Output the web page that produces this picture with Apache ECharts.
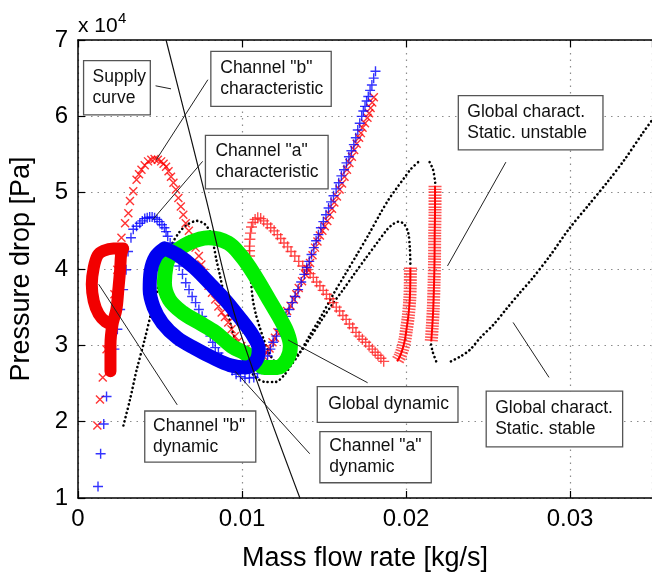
<!DOCTYPE html>
<html><head><meta charset="utf-8">
<script src="https://cdn.jsdelivr.net/npm/echarts@6/dist/echarts.min.js"></script>
<style>html,body{margin:0;padding:0;background:#fff}#c{width:652px;height:577px}</style>
</head><body><div id="c"></div>
<script>
// ---------- data (x: kg/s, y: pressure drop in 10^4 Pa) ----------
const xTickLabels = ['0', '0.01', '0.02', '0.03'];
const yTickLabels = ['1', '2', '3', '4', '5', '6', '7'];

const supplyCurve = [[0.00537,7.0],[0.00689,5.71],[0.00781,4.92],[0.00964,3.34],[0.01353,1.0]];

const chBChar = [[0.00118,1.95],[0.00134,2.29],[0.00151,2.58],[0.00174,2.95],[0.00198,3.34],[0.00222,3.67],[0.00240,3.99],[0.00251,4.23],
[0.00265,4.41],[0.00287,4.60],[0.00307,4.73],[0.00317,4.89],[0.00337,5.02],[0.00357,5.17],[0.00372,5.24],[0.00387,5.30],[0.00407,5.36],[0.00427,5.41],[0.00447,5.43],[0.00467,5.44],[0.00487,5.43],[0.00507,5.41],[0.00522,5.38],[0.00537,5.34],[0.00552,5.28],[0.00567,5.21],[0.00582,5.13],[0.00597,5.04],[0.00612,4.93],[0.00627,4.82],[0.00642,4.71],[0.00657,4.60],[0.00676,4.50],[0.00696,4.39],[0.00717,4.28],[0.00737,4.17],[0.00752,4.06],[0.00766,3.95],[0.00781,3.86],[0.00796,3.78],[0.00817,3.69],[0.00837,3.60],[0.00856,3.51],[0.00876,3.43],[0.00896,3.37],[0.00916,3.30],[0.00936,3.21],[0.00956,3.12],[0.00976,3.05],[0.00996,2.99],[0.01022,2.95],[0.01048,2.91],[0.01078,2.88],[0.01108,2.86],[0.01130,2.86],[0.01150,2.90],[0.01168,2.96],[0.01186,3.04],[0.01201,3.10],[0.01216,3.17],[0.01231,3.23],[0.01246,3.30],[0.01261,3.37],[0.01275,3.45],[0.01296,3.52],[0.01316,3.60],[0.01331,3.67],[0.01346,3.75],[0.01366,3.84],[0.01385,3.93],[0.01400,4.00],[0.01415,4.08],[0.01430,4.18],[0.01445,4.28],[0.01460,4.36],[0.01475,4.44],[0.01490,4.50],[0.01505,4.56],[0.01520,4.63],[0.01535,4.71],[0.01549,4.79],[0.01563,4.87],[0.01579,4.95],[0.01595,5.04],[0.01610,5.12],[0.01625,5.21],[0.01640,5.30],[0.01655,5.39],[0.01670,5.47],[0.01684,5.56],[0.01699,5.64],[0.01714,5.72],[0.01725,5.78],[0.01735,5.85],[0.01750,5.91],[0.01765,5.98],[0.01775,6.04],[0.01784,6.11],[0.01794,6.18],[0.01804,6.25]];

const chAChar = [[0.00122,1.15],[0.00138,1.58],[0.00157,1.97],[0.00174,2.33],[0.00198,2.66],[0.00222,2.95],[0.00240,3.21],[0.00257,3.47],[0.00275,3.73],[0.00293,3.99],[0.00305,4.23],[0.00323,4.41],[0.00337,4.52],[0.00357,4.56],[0.00377,4.60],[0.00392,4.63],[0.00407,4.66],[0.00422,4.67],[0.00437,4.68],[0.00452,4.68],[0.00467,4.67],[0.00482,4.65],[0.00497,4.62],[0.00512,4.58],[0.00527,4.54],[0.00537,4.49],[0.00547,4.43],[0.00562,4.34],[0.00577,4.25],[0.00597,4.15],[0.00617,4.04],[0.00637,3.93],[0.00657,3.82],[0.00677,3.73],[0.00696,3.64],[0.00717,3.56],[0.00737,3.47],[0.00757,3.38],[0.00777,3.30],[0.00792,3.21],[0.00807,3.12],[0.00822,3.04],[0.00837,2.97],[0.00856,2.90],[0.00874,2.84],[0.00895,2.78],[0.00916,2.73],[0.00940,2.67],[0.00964,2.62],[0.00991,2.59],[0.01018,2.57],[0.01045,2.57],[0.01072,2.58],[0.01094,2.63],[0.01114,2.69],[0.01135,2.77],[0.01156,2.86],[0.01173,2.95],[0.01190,3.04],[0.01210,3.12],[0.01230,3.21],[0.01249,3.30],[0.01268,3.38],[0.01287,3.47],[0.01306,3.56],[0.01324,3.64],[0.01342,3.73],[0.01361,3.83],[0.01380,3.93],[0.01395,4.02],[0.01410,4.10],[0.01424,4.19],[0.01438,4.28],[0.01452,4.37],[0.01466,4.45],[0.01481,4.54],[0.01496,4.62],[0.01512,4.71],[0.01528,4.80],[0.01543,4.88],[0.01558,4.96],[0.01574,5.05],[0.01590,5.13],[0.01606,5.22],[0.01622,5.30],[0.01637,5.39],[0.01652,5.47],[0.01667,5.55],[0.01682,5.63],[0.01694,5.72],[0.01706,5.82],[0.01718,5.91],[0.01730,6.00],[0.01740,6.07],[0.01750,6.13],[0.01760,6.20],[0.01770,6.26],[0.01781,6.34],[0.01792,6.41],[0.01803,6.50],[0.01814,6.59]];

// global characteristic, statically stable branches (black dots)
const gStable1 = [[0.00277,1.95],[0.00317,2.29],[0.00359,2.69],[0.00407,3.08],[0.00447,3.43],[0.00485,3.73],[0.00527,4.06],[0.00569,4.31],[0.00617,4.48],[0.00665,4.58],[0.00725,4.63],[0.00772,4.59],[0.00807,4.48],[0.00826,4.32],[0.00844,4.12],[0.00866,3.91],[0.00896,3.60],[0.00934,3.25],[0.00964,3.04],[0.01000,2.84],[0.01042,2.69],[0.01090,2.57],[0.01144,2.52],[0.01204,2.52],[0.01257,2.61],[0.01299,2.74],[0.01346,2.88],[0.01413,3.13],[0.01485,3.39],[0.01557,3.67],[0.01629,3.93],[0.01701,4.19],[0.01772,4.45],[0.01844,4.73],[0.01894,4.91],[0.01940,5.05],[0.01988,5.19],[0.02030,5.31],[0.02074,5.40]];
const gStable2 = [[0.01046,4.10],[0.01054,3.86],[0.01066,3.60],[0.01084,3.41],[0.01106,3.25],[0.01132,3.08],[0.01166,2.90],[0.01204,2.79],[0.01275,2.79],[0.01353,2.91],[0.01413,3.09],[0.01479,3.31],[0.01545,3.52],[0.01617,3.73],[0.01683,3.93],[0.01754,4.14],[0.01826,4.35],[0.01886,4.52],[0.01922,4.59],[0.01954,4.62],[0.01988,4.59],[0.02014,4.47],[0.02024,4.25],[0.02027,4.04]];
const gStable3 = [[0.02144,5.40],[0.02165,5.30],[0.02178,5.13]];
const gStable4 = [[0.02153,3.01],[0.02162,2.92],[0.02184,2.79]];
const gStable5 = [[0.02274,2.79],[0.02329,2.85],[0.02389,2.94],[0.02453,3.10],[0.02533,3.27],[0.02613,3.48],[0.02695,3.69],[0.02772,3.88],[0.02880,4.18],[0.02992,4.52],[0.03114,4.84],[0.03232,5.15],[0.03335,5.44],[0.03443,5.78],[0.03497,5.94]];

// global characteristic, statically unstable branches (red +)
const gUnstable1 = [[0.01046,4.17],[0.01046,4.24],[0.01046,4.30],[0.01048,4.39],[0.01052,4.47],[0.01058,4.55],[0.01066,4.61],[0.01080,4.65],[0.01096,4.67],[0.01114,4.66],[0.01132,4.63],[0.01154,4.59],[0.01175,4.54],[0.01196,4.50],[0.01216,4.45],[0.01236,4.40],[0.01256,4.34],[0.01278,4.29],[0.01299,4.23],[0.01322,4.17],[0.01346,4.10],[0.01370,4.04],[0.01395,3.99],[0.01415,3.94],[0.01435,3.89],[0.01455,3.83],[0.01475,3.78],[0.01495,3.72],[0.01515,3.67],[0.01535,3.61],[0.01555,3.56],[0.01575,3.50],[0.01595,3.45],[0.01615,3.39],[0.01635,3.34],[0.01655,3.28],[0.01675,3.23],[0.01695,3.17],[0.01714,3.12],[0.01734,3.08],[0.01754,3.04],[0.01775,2.99],[0.01795,2.95],[0.01812,2.91],[0.01829,2.87],[0.01847,2.83],[0.01864,2.79]];
const gUnstable2 = [[0.02027,4.02],[0.02026,3.80],[0.02023,3.60],[0.02014,3.38],[0.02003,3.21],[0.01994,3.08],[0.01979,2.95],[0.01964,2.86],[0.01946,2.79]];
const gUnstable3 = [[0.02177,5.09],[0.02177,4.78],[0.02175,4.45],[0.02174,4.12],[0.02171,3.80],[0.02166,3.47],[0.02160,3.24],[0.02154,3.05]];

// dynamic trajectories
const chBDynamic = [[0.00198,2.66],[0.00198,3.01],[0.00210,3.27],[0.00234,3.47],[0.00246,3.73],[0.00257,3.99],[0.00263,4.19],[0.00275,4.27],[0.00216,4.27],[0.00156,4.24],[0.00120,4.18],[0.00096,4.02],[0.00084,3.80],[0.00096,3.58],[0.00126,3.41],[0.00168,3.31],[0.00210,3.27]];
const chADynamic = [[0.00527,4.27],[0.00605,4.19],[0.00707,4.02],[0.00808,3.80],[0.00904,3.58],[0.00994,3.34],[0.01066,3.13],[0.01102,2.95],[0.01084,2.79],[0.01024,2.71],[0.00928,2.74],[0.00820,2.84],[0.00713,2.96],[0.00605,3.10],[0.00515,3.29],[0.00461,3.50],[0.00437,3.73],[0.00443,3.97],[0.00473,4.16],[0.00527,4.27]];
const globalDynamic = [[0.00557,4.17],[0.00677,4.34],[0.00796,4.41],[0.00916,4.34],[0.00996,4.17],[0.01056,3.99],[0.01116,3.78],[0.01175,3.56],[0.01235,3.34],[0.01275,3.17],[0.01295,2.99],[0.01275,2.82],[0.01216,2.71],[0.01136,2.71],[0.01076,2.82],[0.01016,2.90],[0.00936,2.99],[0.00837,3.17],[0.00737,3.30],[0.00637,3.43],[0.00557,3.60],[0.00527,3.82],[0.00537,4.04],[0.00557,4.17]];

// annotations: text, box corners [x0,y0,x1,y1] and pointer [[xa,ya],[xb,yb]] in data units
const noteTexts = ['Supply\ncurve', 'Channel "b"\ncharacteristic', 'Channel "a"\ncharacteristic', 'Global charact.\nStatic. unstable', 'Global charact.\nStatic. stable', 'Global dynamic', 'Channel "b"\ndynamic', 'Channel "a"\ndynamic'];
const noteBoxes = [[0.00034,6.73,0.00441,6.02],[0.00810,6.85,0.01544,6.13],[0.00777,5.75,0.01525,5.05],[0.02319,6.27,0.03201,5.56],[0.02489,2.40,0.03321,1.67],[0.01459,2.46,0.02317,1.99],[0.00407,2.14,0.01084,1.47],[0.01475,1.87,0.02154,1.20]];
const notePointers = [[[0.00473,6.40],[0.00567,6.36]],[[0.00792,6.48],[0.00477,5.43]],[[0.00760,5.41],[0.00457,4.65]],[[0.02609,5.40],[0.02253,4.04]],[[0.02653,3.30],[0.02872,2.58]],[[0.01281,3.07],[0.01766,2.51]],[[0.00126,3.80],[0.00605,2.22]],[[0.00958,2.66],[0.01413,1.58]]];

// ---------- chart ----------
const FONT = '"Liberation Sans", Arial, Helvetica, sans-serif';
const PLUS = 'path://M0,5L10,5M5,0L5,10';
const CROSS = 'path://M0,0L10,10M10,0L0,10';
const chart = echarts.init(document.getElementById('c'), null, {renderer: 'canvas', width: 652, height: 577});

function dots(data) {
  return {type: 'line', data, symbol: 'none', smooth: 0.3, z: 2, silent: true,
    lineStyle: {color: '#000', width: 2.6, type: [0.1, 4.2], cap: 'round'}};
}
function markers(data, sym, size, color, w) {
  return {type: 'scatter', data, symbol: sym, symbolSize: size, z: 2, silent: true,
    itemStyle: {color: 'rgba(0,0,0,0)', borderColor: color, borderWidth: w}};
}
function band(data) {
  return [
    {type: 'line', data, symbol: 'none', smooth: 0.3, z: 2, silent: true,
      lineStyle: {color: '#ff2a2a', width: 13, type: [1.6, 1.3], cap: 'butt', opacity: 0.8}},
    {type: 'line', data, symbol: 'none', smooth: 0.3, z: 2, silent: true,
      lineStyle: {color: '#ff0000', width: 2}}
  ];
}
function loop(data, color, width) {
  return {type: 'line', data, symbol: 'none', smooth: 0.35, z: 3, silent: true,
    lineStyle: {color, width, cap: 'round', join: 'round'}};
}

const series = [
  dots(gStable1), dots(gStable2), dots(gStable3), dots(gStable4), dots(gStable5),
  ...band(gUnstable2), ...band(gUnstable3),
  markers(gUnstable1, PLUS, 11, '#ff2020', 1.4),
  markers(chBChar, CROSS, 8, '#ff0000', 1.4),
  markers(chAChar, PLUS, 10, '#0000ff', 1.4),
  loop(chBDynamic, '#f20000', 12),
  loop(globalDynamic, '#00ee00', 15),
  loop(chADynamic, '#0000f0', 14),
  {type: 'line', data: supplyCurve, symbol: 'none', smooth: 0.3, z: 4, silent: true,
    lineStyle: {color: '#111', width: 1.2}}
];
notePointers.forEach(p => series.push({type: 'line', data: p, symbol: 'none', z: 4, silent: true,
  lineStyle: {color: '#222', width: 1}}));

const tickFmt = (labels, base, step) => v => {
  const i = Math.round((v - base) / step);
  return Math.abs((v - base) / step - i) < 1e-6 && labels[i] !== undefined ? labels[i] : '';
};
const gridLine = {show: true, lineStyle: {color: '#8c8c8c', width: 1.2, type: [1.5, 5]}};
const axisLineStyle = {show: true, lineStyle: {color: '#000', width: 1.5}};

chart.setOption({
  animation: false,
  backgroundColor: '#fff',
  grid: {left: 77, top: 40, right: -9.5, bottom: 78, containLabel: false},
  xAxis: [{
    type: 'value', min: 0, max: 0.035, interval: 0.01, position: 'bottom',
    name: 'Mass flow rate [kg/s]', nameLocation: 'middle', nameGap: 47,
    nameTextStyle: {fontFamily: FONT, fontSize: 27, color: '#000'},
    axisLine: axisLineStyle,
    axisTick: {show: true, inside: true, length: 7, lineStyle: {color: '#000', width: 1.2}},
    axisLabel: {formatter: tickFmt(xTickLabels, 0, 0.01), fontFamily: FONT, fontSize: 24, color: '#000', margin: 9, showMaxLabel: false},
    splitLine: gridLine
  }, {
    type: 'value', min: 0, max: 0.035, interval: 0.01, position: 'top',
    axisLine: axisLineStyle,
    axisTick: {show: true, inside: true, length: 7, lineStyle: {color: '#000', width: 1.2}},
    axisLabel: {show: false}, splitLine: {show: false}
  }],
  yAxis: [{
    type: 'value', min: 1, max: 7, interval: 1,
    name: 'Pressure drop [Pa]', nameLocation: 'middle', nameGap: 43,
    nameTextStyle: {fontFamily: FONT, fontSize: 27, color: '#000'},
    axisLine: axisLineStyle,
    axisTick: {show: true, inside: true, length: 7, lineStyle: {color: '#000', width: 1.2}},
    axisLabel: {formatter: tickFmt(yTickLabels, 1, 1), fontFamily: FONT, fontSize: 24, color: '#000', margin: 10},
    splitLine: gridLine
  }],
  series
});

// annotation boxes placed from data coordinates
const notePad = [9, 9.4, 10, 9, 9, 11, 8.3, 9.4];
const elements = [];
noteBoxes.forEach((b, i) => {
  const p0 = chart.convertToPixel({xAxisIndex: 0, yAxisIndex: 0}, [b[0], b[1]]);
  const p1 = chart.convertToPixel({xAxisIndex: 0, yAxisIndex: 0}, [b[2], b[3]]);
  elements.push({type: 'rect', z: 100, silent: true,
    shape: {x: p0[0], y: p0[1], width: p1[0] - p0[0], height: p1[1] - p0[1]},
    style: {fill: '#fff', stroke: '#555', lineWidth: 1.3}});
  elements.push({type: 'text', z: 101, silent: true, x: p0[0] + notePad[i], y: (p0[1] + p1[1]) / 2,
    style: {text: noteTexts[i], fontFamily: FONT, fontSize: 17.5, fill: '#111', verticalAlign: 'middle', align: 'left', lineHeight: 21}});
});
const origin = chart.convertToPixel({xAxisIndex: 0, yAxisIndex: 0}, [0, 7]);
elements.push({type: 'text', z: 101, silent: true, x: origin[0], y: origin[1] - 14,
  style: {text: 'x 10', fontFamily: FONT, fontSize: 21, fill: '#000', verticalAlign: 'middle'}});
elements.push({type: 'text', z: 101, silent: true, x: origin[0] + 40, y: origin[1] - 21,
  style: {text: '4', fontFamily: FONT, fontSize: 15, fill: '#000', verticalAlign: 'middle'}});
chart.setOption({graphic: {elements}});
</script></body></html>
